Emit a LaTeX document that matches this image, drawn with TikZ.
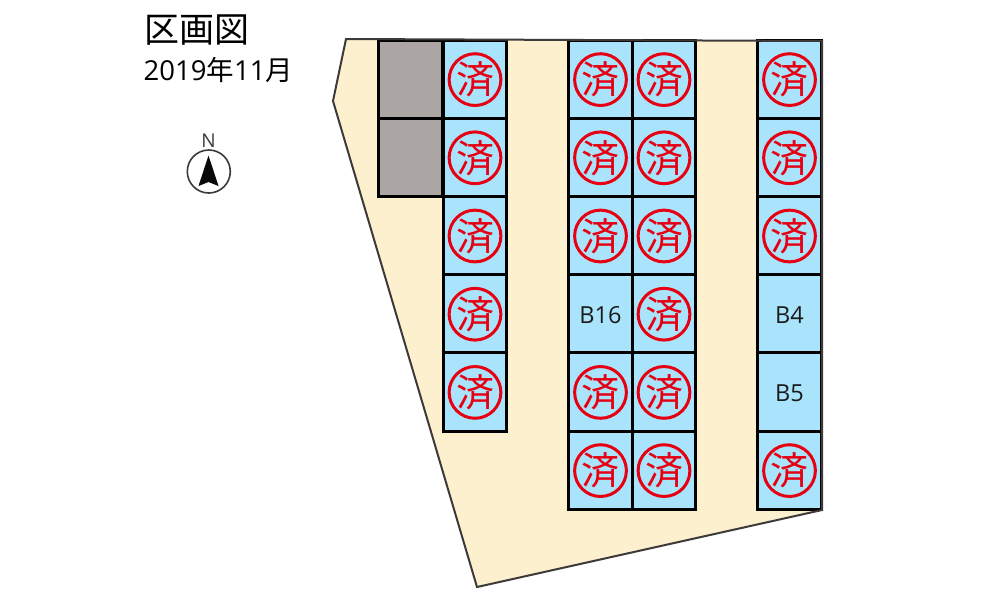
\documentclass[tikz,border=0pt]{standalone}
\usepackage{fontspec}
\setmainfont{Open Sans}
\newfontfamily\jpfont{Noto Sans CJK JP}
\definecolor{lotblue}{HTML}{A9E4FC}
\definecolor{lotgray}{HTML}{ABA5A4}
\definecolor{landcream}{HTML}{FDF0CF}
\definecolor{stampred}{HTML}{E60012}
\definecolor{textdark}{HTML}{1A1A1A}
\definecolor{edgegray}{HTML}{3E3A39}
\tikzset{
  x=1pt,y=-1pt,
  lot/.style={draw=black,line width=3pt,fill=lotblue,minimum width=63.8pt,minimum height=78.2pt,inner sep=0pt,anchor=center,text=textdark,font=\fontsize{23.5}{23.5}\selectfont},
  labelled/.style={lot,text height=19.4pt,text depth=0pt},
  graylot/.style={lot,fill=lotgray},
  stamp/.style={circle,draw=stampred,line width=3pt,minimum size=51.5pt,inner sep=0pt,text=stampred,font=\jpfont\fontsize{38}{38}\selectfont},
  land/.style={draw=edgegray,line width=2pt,line join=miter},
}
\begin{document}
\begin{tikzpicture}
\useasboundingbox (0,0) rectangle (1000,600);
\fill[white] (0,0) rectangle (1000,600);
\fill[landcream] (346,39) -- (822,41) -- (822,510) -- (477,587) -- (333,101) -- cycle;
% gray lots
\node[graylot] (g1) at (410.800,79.100) {};
\node[graylot] (g2) at (410.800,157.300) {};
% lots
\foreach \n/\x/\y/\t in {
 a1/475/79.1/s,a2/475/157.3/s,a3/475/235.5/s,a4/475/313.7/s,a5/475/391.9/s,
 b1/600.5/79.1/s,b2/600.5/157.3/s,b3/600.5/235.5/s,b4/600.5/313.7/B16,b5/600.5/391.9/s,b6/600.5/470.1/s,
 c1/664/79.1/s,c2/664/157.3/s,c3/664/235.5/s,c4/664/313.7/s,c5/664/391.9/s,c6/664/470.1/s,
 d1/789.5/79.1/s,d2/789.5/157.3/s,d3/789.5/235.5/s,d4/789.5/313.7/B4,d5/789.5/391.9/B5,d6/789.5/470.1/s}{
  \def\mys{s}
  \ifx\t\mys
    \node[lot] (\n) at (\x,\y) {};
    \node[stamp] (s\n) at ([yshift=-0.5pt]\n.center) {済};
  \else
    \node[labelled] (\n) at (\x,\y) {\t};
  \fi
}
\draw[land] (346,39) -- (822,41) -- (822,510) -- (477,587) -- (333,101) -- cycle;
% title
\node[anchor=west,inner sep=0pt,text=black,font=\jpfont\fontsize{35}{35}\selectfont] (title) at (144,30) {区画図};
\node[anchor=west,inner sep=0pt,text=black,font=\fontsize{27.500}{27.500}\selectfont] (date) at (143.500,70) {2019{\jpfont 年}11{\jpfont 月}};
% compass
\node[circle,draw=edgegray,line width=1.6pt,fill=white,minimum size=43pt,inner sep=0pt] (comp) at (208.800,171.500) {};
\fill[black!85!edgegray] (208.500,155.500) -- (218.500,186) -- (208.500,182) -- (198.500,186) -- cycle;
\node[inner sep=0pt,text=edgegray,font=\fontsize{19}{19}\selectfont] (north) at (208.500,140.500) {N};
\end{tikzpicture}
\end{document}
